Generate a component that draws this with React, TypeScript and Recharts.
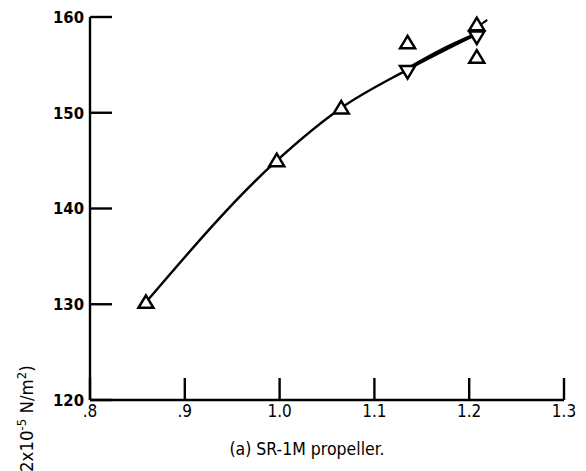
import React from "react";
import { ComposedChart, Line, Scatter, XAxis, YAxis } from "recharts";

// values
const xTicks = [0.8, 0.9, 1.0, 1.1, 1.2, 1.3];
const xTickLabels = [".8", ".9", "1.0", "1.1", "1.2", "1.3"];
const yTicks = [120, 130, 140, 150, 160];

const upPoints = [
  { x: 0.859, y: 130.2 },
  { x: 0.997, y: 145.0 },
  { x: 1.065, y: 150.5 },
  { x: 1.135, y: 157.3 },
  { x: 1.208, y: 159.2 },
  { x: 1.208, y: 155.8 },
];

const downPoints = [
  { x: 1.135, y: 154.3 },
  { x: 1.208, y: 157.9 },
];

const fairing = [
  { x: 0.859, y: 130.2 },
  { x: 0.997, y: 145.0 },
  { x: 1.065, y: 150.5 },
  { x: 1.135, y: 154.5 },
  { x: 1.208, y: 158.2 },
];

// second, overlapping fairing between 1.13 and 1.2 (thick band in the scan)
const fairingUpper = [
  { x: 1.137, y: 154.7 },
  { x: 1.172, y: 156.6 },
  { x: 1.205, y: 158.1 },
];

// short stroke past the last point
const fairingTail = [
  { x: 1.208, y: 158.9 },
  { x: 1.219, y: 159.7 },
];

const tickFont = "'DejaVu Sans Condensed', 'DejaVu Sans', sans-serif";

function UpTriangle(props: any) {
  const { cx, cy } = props;
  if (cx == null || cy == null) return null;
  return (
    <polygon
      points={`${cx - 7.5},${cy + 5.5} ${cx + 7.5},${cy + 5.5} ${cx},${cy - 7}`}
      fill="#fff"
      stroke="#000"
      strokeWidth={2.5}
      strokeLinejoin="miter"
    />
  );
}

function DownTriangle(props: any) {
  const { cx, cy } = props;
  if (cx == null || cy == null) return null;
  return (
    <polygon
      points={`${cx - 7.5},${cy - 5.5} ${cx + 7.5},${cy - 5.5} ${cx},${cy + 7}`}
      fill="#fff"
      stroke="#000"
      strokeWidth={2.5}
      strokeLinejoin="miter"
    />
  );
}

export default function App() {
  return (
    <div style={{ position: "absolute", left: 0, top: 0, width: 586, height: 471, background: "#fff" }}>
      <ComposedChart width={586} height={471} margin={{ top: 17, right: 22, bottom: 9, left: 40 }}>
        <XAxis
          type="number"
          dataKey="x"
          domain={[0.8, 1.3]}
          ticks={xTicks}
          tickFormatter={(v: number, i: number) => xTickLabels[i] ?? String(v)}
          height={62}
          stroke="#000"
          strokeWidth={2.4}
          tickSize={-22}
          tickMargin={27}
          tick={{ fill: "#000", fontSize: 17, fontFamily: tickFont }}
        />
        <YAxis
          type="number"
          dataKey="y"
          domain={[120, 160]}
          ticks={yTicks}
          width={50}
          stroke="#000"
          strokeWidth={2.4}
          tickSize={-22}
          tickMargin={28}
          tick={{ fill: "#000", fontSize: 16.5, fontFamily: tickFont, fontWeight: "bold" }}
        />
        <Line
          data={fairing}
          dataKey="y"
          type="monotone"
          stroke="#000"
          strokeWidth={2.4}
          dot={false}
          isAnimationActive={false}
        />
        <Line
          data={fairingUpper}
          dataKey="y"
          type="monotone"
          stroke="#000"
          strokeWidth={3.5}
          dot={false}
          isAnimationActive={false}
        />
        <Scatter data={upPoints} shape={<UpTriangle />} isAnimationActive={false} />
        <Scatter data={downPoints} shape={<DownTriangle />} isAnimationActive={false} />
        <Line
          data={fairingTail}
          dataKey="y"
          type="linear"
          stroke="#000"
          strokeWidth={2}
          dot={false}
          isAnimationActive={false}
        />
      </ComposedChart>
      <div
        style={{
          position: "absolute",
          left: 197,
          top: 439,
          width: 220,
          textAlign: "center",
          fontFamily: tickFont,
          fontSize: 17.5,
          color: "#000",
        }}
      >
        (a) SR-1M propeller.
      </div>
      <div
        style={{
          position: "absolute",
          left: 11,
          top: 472,
          transform: "rotate(-90deg)",
          transformOrigin: "left top",
          whiteSpace: "nowrap",
          fontFamily: tickFont,
          fontSize: 18.5,
          lineHeight: "22px",
          color: "#000",
        }}
      >
        2x10<sup style={{ fontSize: 13 }}>-5</sup> N/m<sup style={{ fontSize: 13 }}>2</sup>)
      </div>
    </div>
  );
}
